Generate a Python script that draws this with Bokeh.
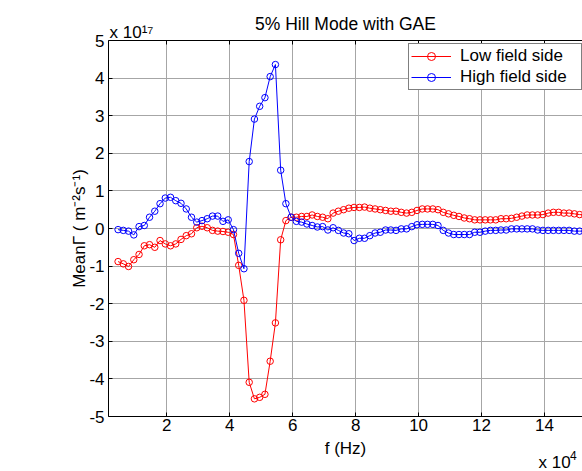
from bokeh.plotting import figure
from bokeh.models import Range1d, LinearAxis, FixedTicker, Label, Legend, LegendItem, Title
from bokeh.embed import file_html
from bokeh.resources import INLINE

# ---------------- data (f in units of 1e4 Hz, Gamma in units of 1e17 m^-2 s^-1) ----------------
freq = [0.450, 0.617, 0.783, 0.950, 1.117, 1.283, 1.450, 1.617, 1.783, 1.950,
        2.117, 2.283, 2.450, 2.617, 2.783, 2.950, 3.117, 3.283, 3.450, 3.617,
        3.783, 3.950, 4.117, 4.283, 4.450, 4.617, 4.783, 4.950, 5.117, 5.283,
        5.450, 5.617, 5.783, 5.950, 6.117, 6.283, 6.450, 6.617, 6.783, 6.950,
        7.117, 7.283, 7.450, 7.617, 7.783, 7.950, 8.117, 8.283, 8.450, 8.617,
        8.783, 8.950, 9.117, 9.283, 9.450, 9.617, 9.783, 9.950, 10.117, 10.283,
        10.450, 10.617, 10.783, 10.950, 11.117, 11.283, 11.450, 11.617, 11.783, 11.950,
        12.117, 12.283, 12.450, 12.617, 12.783, 12.950, 13.117, 13.283, 13.450, 13.617,
        13.783, 13.950, 14.117, 14.283, 14.450, 14.617, 14.783, 14.950, 15.117, 15.283]

low_field = [-0.88, -0.94, -1.01, -0.83, -0.69, -0.46, -0.43, -0.50, -0.32, -0.41,
             -0.46, -0.41, -0.29, -0.19, -0.14, 0.02, 0.06, 0.02, -0.05, -0.07,
             -0.08, -0.10, -0.16, -0.98, -1.91, -4.09, -4.53, -4.49, -4.41, -3.53,
             -2.51, -0.30, 0.21, 0.30, 0.30, 0.32, 0.32, 0.36, 0.32, 0.30,
             0.26, 0.41, 0.46, 0.50, 0.54, 0.56, 0.56, 0.57, 0.54, 0.52,
             0.50, 0.48, 0.46, 0.46, 0.43, 0.41, 0.43, 0.48, 0.52, 0.52,
             0.52, 0.50, 0.43, 0.39, 0.35, 0.32, 0.28, 0.26, 0.23, 0.23,
             0.23, 0.23, 0.23, 0.26, 0.26, 0.27, 0.30, 0.33, 0.36, 0.36,
             0.36, 0.37, 0.41, 0.43, 0.43, 0.41, 0.41, 0.39, 0.37, 0.36]

high_field = [-0.03, -0.05, -0.07, -0.17, 0.05, 0.08, 0.30, 0.46, 0.66, 0.81,
              0.83, 0.74, 0.67, 0.52, 0.30, 0.17, 0.21, 0.26, 0.33, 0.33,
              0.19, 0.23, -0.03, -0.66, -1.07, 1.78, 2.91, 3.25, 3.48, 4.04,
              4.36, 1.55, 0.66, 0.30, 0.19, 0.17, 0.12, 0.08, 0.04, 0.05,
              -0.04, 0.02, -0.05, -0.12, -0.14, -0.32, -0.26, -0.26, -0.19, -0.12,
              -0.10, -0.04, -0.04, -0.05, -0.01, -0.01, 0.05, 0.10, 0.11, 0.11,
              0.11, 0.08, -0.05, -0.12, -0.16, -0.16, -0.16, -0.16, -0.10, -0.10,
              -0.07, -0.05, -0.05, -0.04, -0.04, -0.01, -0.01, -0.01, -0.01, -0.01,
              -0.04, -0.05, -0.05, -0.05, -0.05, -0.05, -0.05, -0.07, -0.07, -0.07]

x_ticks = [2, 4, 6, 8, 10, 12, 14]
y_ticks = [-5, -4, -3, -2, -1, 0, 1, 2, 3, 4, 5]
y_tick_labels = ["-5", "-4", "-3", "-2", "-1", "0", "1", "2", "3", "4", "5"]

title_text = "5% Hill Mode with GAE"
x_label = "f (Hz)"
y_label = "MeanΓ ( m⁻²s⁻¹)"
y_exponent = "x 10¹⁷"
series_names = ["Low field side", "High field side"]

FONT = "Liberation Sans"
FS = "17px"

p = figure(width=582, height=471, output_backend="svg", toolbar_location=None,
           x_range=Range1d(0.146, 15.208), y_range=Range1d(-5, 5),
           min_border_left=108, min_border_right=0, min_border_top=40, min_border_bottom=55)
p.outline_line_color = None
p.background_fill_color = "white"
p.border_fill_color = "white"

# main title (outermost in the top panel)
p.title.text = title_text
p.title.align = "center"
p.title.text_font = FONT
p.title.text_font_size = "17.5px"
p.title.text_font_style = "normal"
p.title.text_color = "black"
p.title.standoff = -23

# grid
p.xgrid.ticker = FixedTicker(ticks=x_ticks)
p.ygrid.ticker = FixedTicker(ticks=y_ticks)
p.grid.grid_line_color = "#a6a6a6"
p.grid.grid_line_width = 1

def style_axis(ax):
    ax.axis_line_color = "black"
    ax.axis_line_width = 1
    ax.major_tick_line_color = "black"
    ax.major_tick_in = 4
    ax.major_tick_out = 0
    ax.minor_tick_line_color = None
    ax.major_label_text_font = FONT
    ax.major_label_text_font_size = FS
    ax.major_label_text_color = "black"
    ax.axis_label_text_font = FONT
    ax.axis_label_text_font_size = FS
    ax.axis_label_text_font_style = "normal"
    ax.axis_label_text_color = "black"

xa = p.xaxis[0]
ya = p.yaxis[0]
style_axis(xa)
style_axis(ya)
xa.ticker = FixedTicker(ticks=x_ticks)
ya.ticker = FixedTicker(ticks=y_ticks)
ya.major_label_overrides = {t: s for t, s in zip(y_ticks, y_tick_labels)}
xa.axis_label = x_label
ya.axis_label = y_label
xa.major_label_standoff = 2
xa.axis_label_standoff = 5
ya.major_label_standoff = 4
ya.axis_label_standoff = -3

# top border with inward ticks (nearest the frame)
top = LinearAxis(ticker=FixedTicker(ticks=x_ticks))
style_axis(top)
top.major_label_text_font_size = "0px"
top.major_label_standoff = 0
p.add_layout(top, "above")

# y exponent, just above the top-left corner of the frame
p.add_layout(Title(text=y_exponent, align="left", offset=1, standoff=-3,
                   text_font=FONT, text_font_size=FS, text_font_style="normal",
                   text_color="black"), "above")

# series
r1l = p.line(freq, low_field, line_color="#ff0000", line_width=1)
r1m = p.scatter(freq, low_field, marker="circle", size=6.5, line_color="#ff0000",
                fill_color=None, line_width=1)
r2l = p.line(freq, high_field, line_color="#0000ff", line_width=1)
r2m = p.scatter(freq, high_field, marker="circle", size=6.5, line_color="#0000ff",
                fill_color=None, line_width=1)

legend = Legend(items=[LegendItem(label=series_names[0], renderers=[r1l, r1m]),
                       LegendItem(label=series_names[1], renderers=[r2l, r2m])],
                location=(300, 326), margin=0, padding=2, spacing=1,
                glyph_width=40, glyph_height=20, label_standoff=9,
                label_width=119, label_height=20,
                border_line_color="black", border_line_width=1,
                background_fill_color="white", background_fill_alpha=1,
                label_text_font=FONT, label_text_font_size=FS, label_text_color="black")
p.add_layout(legend)

# x exponent at the bottom right (kept in the spare left side panel so it is not clipped)
for x, y, txt, fs in [(13.81, -6.215, "x 10", FS),
                      (14.81, -6.037, "4", "12px")]:
    p.add_layout(Label(x=x, y=y, text=txt, text_align="left",
                       text_baseline="alphabetic", text_font=FONT, text_font_size=fs,
                       text_color="black"), "left")

open("out.html", "w").write(file_html(p, INLINE))
